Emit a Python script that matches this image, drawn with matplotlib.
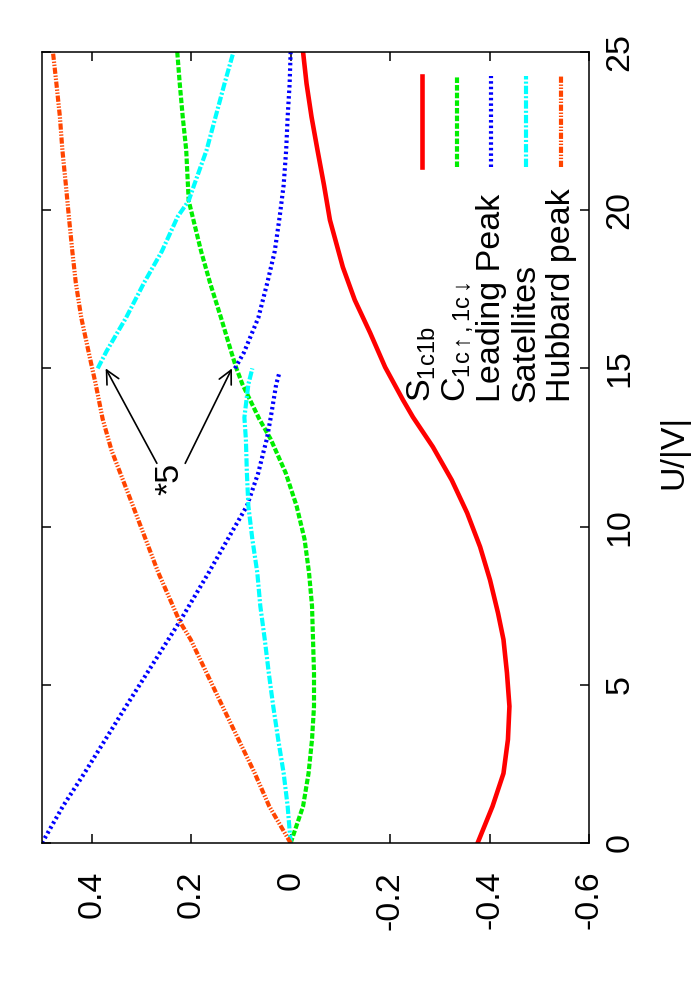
import numpy as np
import matplotlib
matplotlib.use("Agg")
import matplotlib.pyplot as plt

plt.rcParams['font.family'] = ['Liberation Sans', 'DejaVu Sans']
plt.rcParams['mathtext.fontset'] = 'custom'
plt.rcParams['mathtext.rm'] = 'Liberation Sans'
plt.rcParams['mathtext.it'] = 'Liberation Sans'
plt.rcParams['lines.scale_dashes'] = False

u_s = [0, 1.16, 2.2, 3.27, 4.32, 5.38, 6.43, 7.27, 8.31, 9.36, 10.43, 11.47, 12.52,
       13.46, 14.0, 15.04, 16.12, 17.16, 18.2, 19.69, 20.8, 21.9, 22.95, 24, 25]
s_1c1b = [-0.376, -0.406, -0.428, -0.437, -0.440, -0.435, -0.428, -0.417, -0.401, -0.381,
          -0.355, -0.324, -0.286, -0.246, -0.226, -0.190, -0.160, -0.129, -0.105, -0.079,
          -0.067, -0.054, -0.042, -0.032, -0.025]

u_c = [0, 1.16, 2.2, 3.27, 4.32, 5.38, 6.43, 7.49, 8.54, 9.6, 10.65, 11.7, 12.76,
       13.4, 14.5, 15.0, 15.5, 16.6, 17.7, 18.7, 20.3, 21.9, 22.95, 24, 25]
c_updown = [0, -0.025, -0.036, -0.043, -0.047, -0.047, -0.045, -0.043, -0.037, -0.028,
            -0.012, 0.010, 0.040, 0.063, 0.097, 0.109, 0.119, 0.140, 0.162, 0.180,
            0.205, 0.210, 0.217, 0.223, 0.228]

u_lead_lo = [0, 1.16, 2.2, 4.32, 6.43, 7.0, 8.54, 10.0, 10.65, 11.7, 12.4, 12.76, 13.45, 14.5, 14.9]
lead_lo = [0.5, 0.458, 0.415, 0.331, 0.246, 0.223, 0.165, 0.112, 0.088, 0.065, 0.054,
           0.048, 0.040, 0.029, 0.022]
u_lead_hi = [15, 15.5, 16.6, 17.7, 18.7, 19.8, 20.8, 21.9, 22.95, 24, 25]
lead_hi = [0.112, 0.094, 0.065, 0.047, 0.032, 0.022, 0.014, 0.009, 0.006, 0.002, 0.0]

u_sat_lo = [0, 1.16, 2.2, 3.27, 4.32, 5.38, 6.43, 7.49, 8.54, 9.6, 10.65, 11.7, 12.76, 13.45, 14.5, 15]
sat_lo = [0, 0.006, 0.014, 0.025, 0.035, 0.044, 0.052, 0.061, 0.067, 0.077, 0.085, 0.088,
          0.090, 0.093, 0.085, 0.077]
u_sat_hi = [15, 15.55, 16.6, 17.7, 18.7, 19.8, 20.3, 20.8, 21.9, 22.95, 24, 25]
sat_hi = [0.388, 0.370, 0.331, 0.295, 0.259, 0.227, 0.205, 0.194, 0.169, 0.151, 0.133, 0.115]

u_hub = [0, 1.16, 2.2, 4.32, 6.43, 7.0, 8.54, 10.65, 12.4, 13.4, 14.5, 15, 15.5, 16.6,
         17.7, 18.7, 19.8, 20.8, 21.9, 22.95, 24, 25]
hubbard = [0, 0.043, 0.072, 0.137, 0.201, 0.223, 0.266, 0.317, 0.360, 0.378, 0.392, 0.399,
           0.406, 0.421, 0.432, 0.439, 0.446, 0.452, 0.459, 0.464, 0.471, 0.478]

val_ticks = [0.4, 0.2, 0, -0.2, -0.4, -0.6]
val_ticklabels = ['0.4', '0.2', '0', '-0.2', '-0.4', '-0.6']
u_ticks = [0, 5, 10, 15, 20, 25]

labels = [r'S$_{\rm 1c1b}$', r'C$_{\rm 1c\uparrow,1c\downarrow}$', 'Leading Peak', 'Satellites', 'Hubbard peak']

fs = 24.5
lw = 3.0
styles = [
    dict(color='#ff0000', lw=3.3, ls='-'),
    dict(color='#00ee00', lw=lw, ls=(0, (4, 1.5))),
    dict(color='#0000ff', lw=lw, ls=(0, (1.8, 2.2))),
    dict(color='#00ffff', lw=lw, ls=(0, (6, 1.5, 1.5, 1.5))),
    dict(color='#ff4500', lw=lw, ls=(0, (4.5, 1.2, 1, 1.2, 1, 1.2))),
]

fig = plt.figure(figsize=(7, 10), dpi=100)
ax = fig.add_axes([42 / 700, 1 - 843 / 1000, 547 / 700, 791 / 1000])

# the chart is drawn turned by 90 degrees: value on horizontal, U/|V| on vertical
ax.plot(s_1c1b, u_s, **styles[0])
ax.plot(c_updown, u_c, **styles[1])
ax.plot(lead_lo, u_lead_lo, **styles[2])
ax.plot(lead_hi, u_lead_hi, **styles[2])
ax.plot(sat_lo, u_sat_lo, **styles[3])
ax.plot(sat_hi, u_sat_hi, **styles[3])
ax.plot(hubbard, u_hub, **styles[4])

ax.set_xlim(0.5, -0.6)
ax.set_ylim(0, 25)

ax.set_xticks(val_ticks)
ax.set_xticklabels(val_ticklabels)
ax.set_yticks(u_ticks)
ax.set_yticklabels([str(t) for t in u_ticks])
ax.tick_params(axis='x', direction='in', top=True, bottom=True, length=6.5, width=1.1,
               labelsize=fs, labelrotation=90, pad=20)
ax.tick_params(axis='y', direction='in', left=True, right=True, labelleft=False,
               labelright=True, length=6.5, width=1.1, labelsize=fs, labelrotation=90, pad=11)
for lbl in ax.get_yticklabels():
    lbl.set_va('center')
for sp in ax.spines.values():
    sp.set_linewidth(1.1)

fig.text(674 / 700, 1 - 452 / 1000, 'U/|V|', rotation=90, ha='center', va='center', fontsize=fs)

# hand-made key, rotated like the rest
key_x = [0.695, 0.759, 0.821, 0.885, 0.949]
for kx, lab, st in zip(key_x, labels, styles):
    ax.plot([kx, kx], [0.855, 0.970], transform=ax.transAxes, clip_on=False, **st)
    ax.text(kx, 0.5575, lab, transform=ax.transAxes, rotation=90, ha='center', va='bottom',
            fontsize=fs)

# *5 note with arrows to the scaled branches
ax.text(0.243, 11.5, '*5', rotation=90, ha='center', va='center', fontsize=fs)
arrow = dict(arrowstyle='->', color='black', lw=1.2, mutation_scale=24, shrinkA=0, shrinkB=0)
ax.annotate('', xy=(0.372, 15.0), xytext=(0.269, 12.0), arrowprops=arrow)
ax.annotate('', xy=(0.118, 15.0), xytext=(0.212, 12.0), arrowprops=arrow)

plt.savefig('out.png', dpi=100)
